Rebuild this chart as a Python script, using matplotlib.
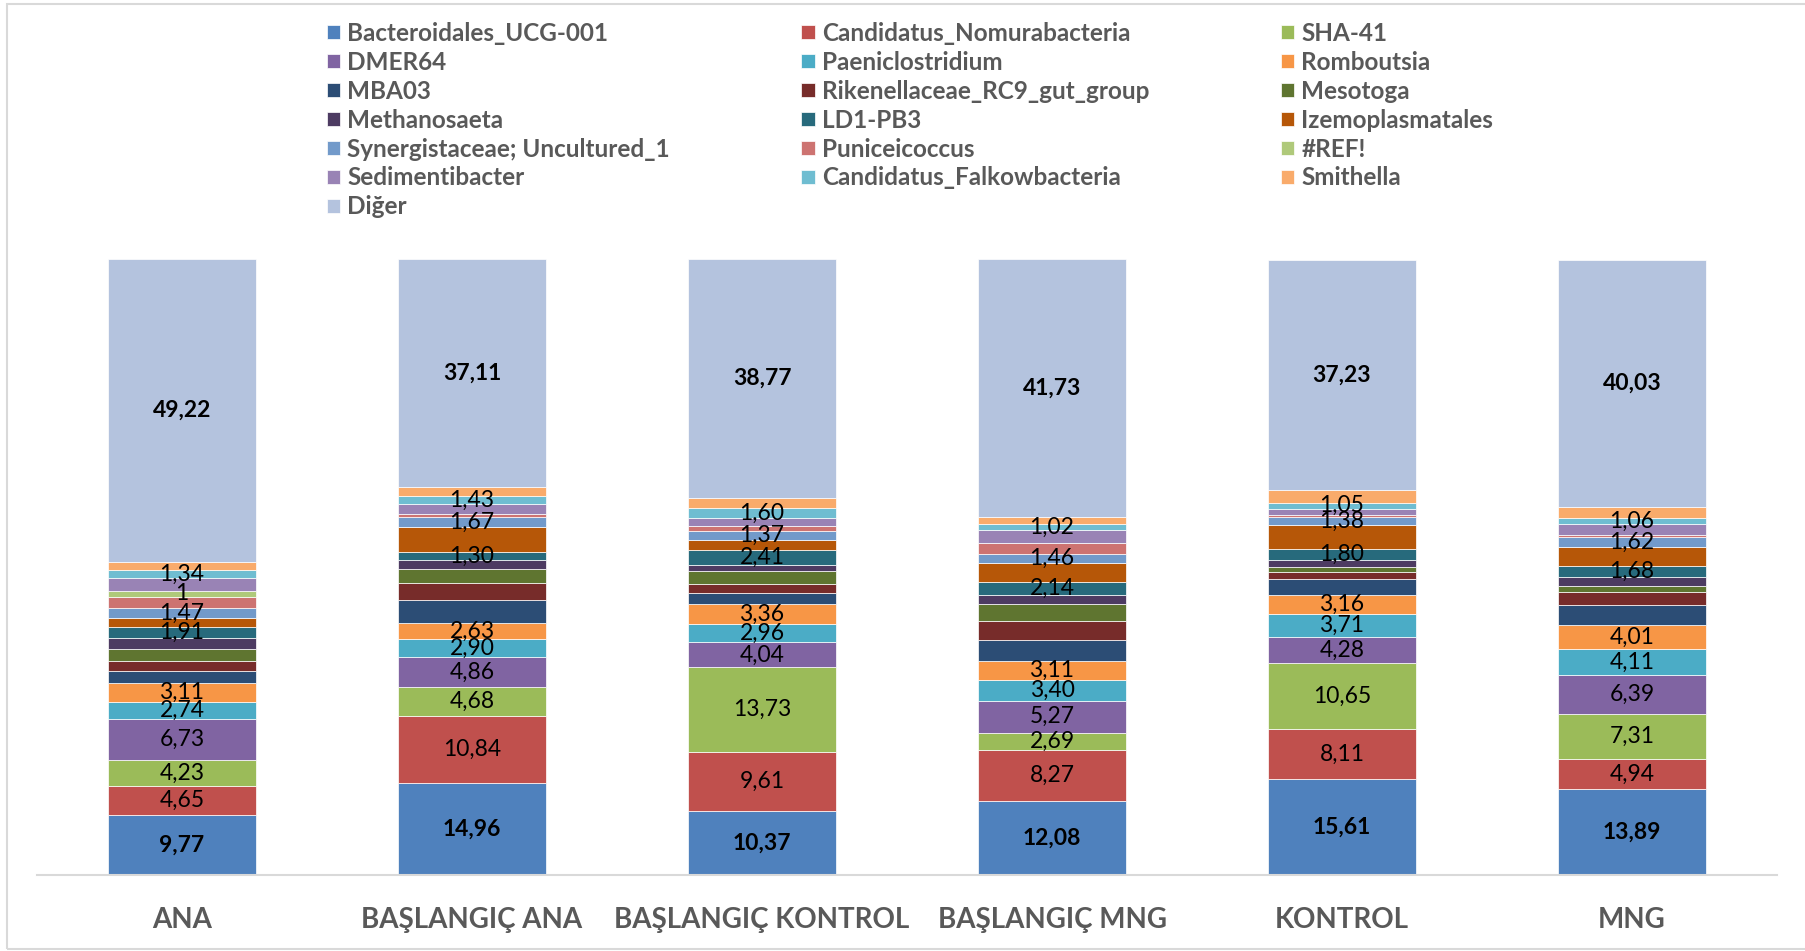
import matplotlib

matplotlib.use("Agg")
import matplotlib.pyplot as plt
import numpy as np
from matplotlib.patches import Rectangle

plt.rcParams["font.family"] = ["Lato", "DejaVu Sans"]

samples = ["ANA", "BAŞLANGIÇ ANA", "BAŞLANGIÇ KONTROL", "BAŞLANGIÇ MNG", "KONTROL", "MNG"]

taxa = [
    "Bacteroidales_UCG-001", "Candidatus_Nomurabacteria", "SHA-41",
    "DMER64", "Paeniclostridium", "Romboutsia",
    "MBA03", "Rikenellaceae_RC9_gut_group", "Mesotoga",
    "Methanosaeta", "LD1-PB3", "Izemoplasmatales",
    "Synergistaceae; Uncultured_1", "Puniceicoccus", "#REF!",
    "Sedimentibacter", "Candidatus_Falkowbacteria", "Smithella",
    "Diğer",
]

# relative abundance (%) per taxon, one value per sample
bacteroidales = [9.77, 14.96, 10.37, 12.08, 15.61, 13.89]
nomurabacteria = [4.65, 10.84, 9.61, 8.27, 8.11, 4.94]
sha41 = [4.23, 4.68, 13.73, 2.69, 10.65, 7.31]
dmer64 = [6.73, 4.86, 4.04, 5.27, 4.28, 6.39]
paeniclostridium = [2.74, 2.90, 2.96, 3.40, 3.71, 4.11]
romboutsia = [3.11, 2.63, 3.36, 3.11, 3.16, 4.01]
mba03 = [1.94, 3.79, 1.63, 3.25, 2.60, 3.25]
rikenellaceae = [1.63, 2.71, 1.57, 3.09, 1.08, 2.11]
mesotoga = [1.88, 2.28, 2.06, 2.76, 0.76, 0.98]
methanosaeta = [1.73, 1.41, 0.98, 1.52, 1.19, 1.46]
ld1_pb3 = [1.91, 1.30, 2.41, 2.14, 1.80, 1.68]
izemoplasmatales = [1.48, 4.07, 1.73, 3.04, 3.79, 3.04]
synergistaceae = [1.47, 1.67, 1.37, 1.46, 1.38, 1.62]
puniceicoccus = [1.88, 0.49, 0.81, 1.79, 0.38, 0.43]
ref_err = [1.0, 0, 0, 0, 0, 0]
sedimentibacter = [2.04, 1.57, 1.36, 2.11, 0.92, 1.73]
falkowbacteria = [1.34, 1.43, 1.60, 1.02, 1.05, 1.06]
smithella = [1.27, 1.36, 1.68, 1.19, 2.11, 1.79]
diger = [49.22, 37.11, 38.77, 41.73, 37.23, 40.03]

values = [
    bacteroidales, nomurabacteria, sha41, dmer64, paeniclostridium, romboutsia,
    mba03, rikenellaceae, mesotoga, methanosaeta, ld1_pb3, izemoplasmatales,
    synergistaceae, puniceicoccus, ref_err, sedimentibacter, falkowbacteria,
    smithella, diger,
]

colors = [
    "#4F81BD", "#C0504D", "#9BBB59", "#8064A2", "#4BACC6", "#F79646",
    "#2C4D75", "#772C2A", "#5F7530", "#4D3B62", "#276A7C", "#B65708",
    "#729ACA", "#CD7371", "#AFC97A", "#9983B5", "#6FBDD1", "#F9AB6B",
    "#B4C3DE",
]

# series that carry value labels; first and last are bold
labelled = {0, 1, 2, 3, 4, 5, 10, 12, 14, 16, 18}
bold_labels = {0, 18}

fig = plt.figure(figsize=(18.05, 9.51), dpi=100)
ax = fig.add_axes([37 / 1805, 76 / 951, 1740 / 1805, 616 / 951])

x = np.arange(len(samples))
bottom = np.zeros(len(samples))
handles = []
for i, (name, vals, col) in enumerate(zip(taxa, values, colors)):
    vals = np.asarray(vals, dtype=float)
    bars = ax.bar(x, vals, 0.512, bottom=bottom, color=col, label=name,
                  edgecolor="white", linewidth=0.5)
    handles.append(bars)
    if i in labelled:
        for xi, b, v in zip(x, bottom, vals):
            if v <= 0:
                continue
            txt = f"{v:g}" if name == "#REF!" else f"{v:.2f}".replace(".", ",")
            ax.text(xi, b + v / 2, txt, ha="center", va="center",
                    fontsize=16.5, color="black",
                    fontweight="bold" if i in bold_labels else "normal")
    bottom += vals

ax.set_xlim(-0.5, 5.5)
ax.set_ylim(0, 100)
ax.set_yticks([])
ax.set_xticks(x)
ax.set_xticklabels(samples, fontsize=20, fontweight="bold", color="#595959")
ax.tick_params(axis="x", length=0, pad=23)
for side in ("top", "left", "right"):
    ax.spines[side].set_visible(False)
ax.spines["bottom"].set_color("#D9D9D9")
ax.spines["bottom"].set_linewidth(1.5)

# legend filled row by row, three per row
order = list(range(0, 19, 3)) + list(range(1, 19, 3)) + list(range(2, 19, 3))
leg = fig.legend([handles[k] for k in order], [taxa[k] for k in order],
                 loc="upper left", bbox_to_anchor=(317 / 1805, 1 - 12 / 951),
                 ncol=3, frameon=False, fontsize=17.5,
                 handlelength=0.55, handleheight=0.55, handletextpad=0.3,
                 columnspacing=5.4, labelspacing=0.245, borderaxespad=0)
for t in leg.get_texts():
    t.set_fontweight("bold")
    t.set_color("#595959")

fig.patches.append(Rectangle((7 / 1805, 2 / 951), 1.01, 945 / 951,
                             transform=fig.transFigure, fill=False,
                             edgecolor="#D9D9D9", linewidth=1.5))

fig.savefig("out.png", dpi=100)
